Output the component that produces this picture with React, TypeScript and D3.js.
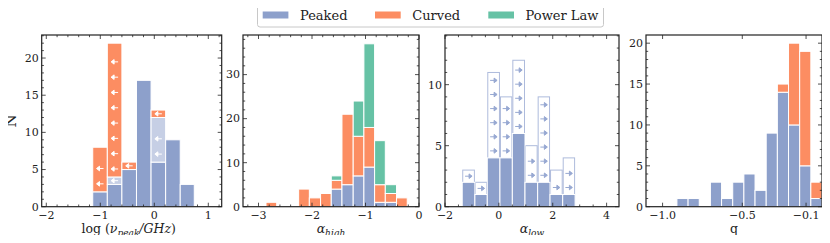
import React, { useRef, useEffect } from 'react';
import * as d3 from 'd3';

const WIDTH = 830;
const HEIGHT = 243;
const FONT = '"DejaVu Serif", serif';

const COLORS = {
  peaked: '#8da0cb',
  peakedLimit: '#c6cfe5',
  curved: '#fc8d62',
  powerLaw: '#66c2a5',
};

// log(nu_peak / GHz)
const nuEdges = [-1.14, -0.87, -0.6, -0.33, -0.06, 0.21, 0.48, 0.74];
const nuPeaked = [2, 3, 5, 17, 6, 9, 3];
const nuPeakedLimit = [0, 1, 0, 0, 6, 0, 0];
const nuCurved = [6, 18, 1, 0, 1, 0, 0];

// alpha_high
const ahEdges = [-2.86, -2.66, -2.45, -2.25, -2.05, -1.84, -1.64, -1.44, -1.23, -1.03, -0.83, -0.63, -0.42, -0.22];
const ahPeaked = [0, 0, 0, 0, 0, 0, 4, 5, 7, 9, 1, 1, 0];
const ahCurved = [1, 0, 0, 4, 2, 3, 2, 16, 9, 9, 4, 2, 2];
const ahPowerLaw = [0, 0, 0, 0, 0, 0, 1, 0, 8, 19, 10, 2, 0];

// alpha_low
const alEdges = [-1.36, -0.89, -0.43, 0.04, 0.5, 0.97, 1.44, 1.9, 2.37, 2.83];
const alPeaked = [2, 1, 4, 4, 6, 2, 2, 1, 1];
const alPeakedLimit = [1, 1, 7, 5, 6, 3, 7, 2, 3];

// q
const qEdges = [-0.91, -0.84, -0.77, -0.7, -0.63, -0.56, -0.49, -0.42, -0.35, -0.28, -0.21, -0.14, -0.07, 0.0];
const qPeaked = [1, 1, 0, 3, 1, 3, 4, 2, 9, 14, 10, 5, 1];
const qCurved = [0, 0, 0, 0, 0, 0, 0, 0, 0, 1, 10, 14, 2];

const legendItems = [
  { label: 'Peaked', color: COLORS.peaked },
  { label: 'Curved', color: COLORS.curved },
  { label: 'Power Law', color: COLORS.powerLaw },
];

const TOP = 35;
const BOTTOM = 206.7;

const panels = [
  {
    left: 41.7, right: 221.7, xDomain: [-2.085, 1.248], yMax: 23.1,
    xTicks: [-2, -1, 0, 1], xMinor: 0.2, yTicks: [0, 5, 10, 15, 20], yMinor: 1,
    xFormat: (d: number) => d3.format('d')(d).replace('-', '\u2212'),
  },
  {
    left: 243, right: 419, xDomain: [-3.29, 0], yMax: 39,
    xTicks: [-3, -2, -1, 0], xMinor: 0.2, yTicks: [0, 10, 20, 30], yMinor: 2,
    xFormat: (d: number) => d3.format('d')(d).replace('-', '\u2212'),
  },
  {
    left: 445, right: 619, xDomain: [-2, 4.46], yMax: 14.07,
    xTicks: [-2, 0, 2, 4], xMinor: 0.5, yTicks: [0, 5, 10], yMinor: 1,
    xFormat: (d: number) => d3.format('d')(d).replace('-', '\u2212'),
  },
  {
    left: 646, right: 822, xDomain: [-1.104, 0], yMax: 21,
    xTicks: [-1.0, -0.5, -0.1], xMinor: 0, yTicks: [0, 5, 10, 15, 20], yMinor: 1,
    xFormat: (d: number) => d3.format('.1f')(d).replace('-', '\u2212'),
  },
];

// stack several count arrays into segments
const stackSegments = (edges: number[], layers: { counts: number[]; color: string; arrows?: boolean }[]) => {
  const segs: any[] = [];
  edges.slice(0, -1).forEach((x0, i) => {
    let base = 0;
    layers.forEach(layer => {
      const c = layer.counts[i];
      if (c > 0) {
        segs.push({ x0, x1: edges[i + 1], y0: base, y1: base + c, color: layer.color, arrows: layer.arrows });
      }
      base += c;
    });
  });
  return segs;
};

// arrow positions (px above segment bottom), spaced like the original
const arrowOffsets = (h: number, start: number, step: number) => {
  const out: number[] = [];
  for (let p = start; p <= h - 7; p += step) out.push(p);
  if (!out.length) out.push(h / 2);
  return out;
};

const arrowPath = (dir: number) => {
  // dir = -1 points left, 1 points right
  const tip = 3.5 * dir;
  return `M${-3.5 * dir},0L${tip - 2.6 * dir},0M${tip},0L${tip - 3 * dir},-2.3L${tip - 3 * dir},2.3Z`;
};

const Histograms = () => {
  const svgRef = useRef<SVGSVGElement>(null);

  useEffect(() => {
    const svg = d3.select(svgRef.current);
    svg.selectAll('*').remove();

    svg.append('rect').attr('width', WIDTH).attr('height', HEIGHT).attr('fill', 'white');

    const h = BOTTOM - TOP;

    const segmentsPerPanel = [
      stackSegments(nuEdges, [
        { counts: nuPeaked, color: COLORS.peaked },
        { counts: nuPeakedLimit, color: COLORS.peakedLimit, arrows: true },
        { counts: nuCurved, color: COLORS.curved, arrows: true },
      ]),
      stackSegments(ahEdges, [
        { counts: ahPeaked, color: COLORS.peaked },
        { counts: ahCurved, color: COLORS.curved },
        { counts: ahPowerLaw, color: COLORS.powerLaw },
      ]),
      stackSegments(alEdges, [{ counts: alPeaked, color: COLORS.peaked }]),
      stackSegments(qEdges, [
        { counts: qPeaked, color: COLORS.peaked },
        { counts: qCurved, color: COLORS.curved },
      ]),
    ];

    panels.forEach((p, pi) => {
      const w = p.right - p.left;
      const g = svg.append('g').attr('transform', `translate(${p.left},${TOP})`);
      const x = d3.scaleLinear().domain(p.xDomain).range([0, w]);
      const y = d3.scaleLinear().domain([0, p.yMax]).range([h, 0]);

      g.append('clipPath').attr('id', `clip${pi}`)
        .append('rect').attr('width', w).attr('height', h);
      const plot = g.append('g').attr('clip-path', `url(#clip${pi})`);

      // alpha_low: outlined limits with right arrows
      if (pi === 2) {
        const outline = alEdges.slice(0, -1).map((x0, i) => ({
          x0, x1: alEdges[i + 1], y0: alPeaked[i], y1: alPeaked[i] + alPeakedLimit[i],
        }));
        plot.selectAll('.outline')
          .data(outline)
          .join('rect')
          .attr('x', d => x(d.x0) + 0.5)
          .attr('width', d => x(d.x1) - x(d.x0) - 1)
          .attr('y', d => y(d.y1))
          .attr('height', d => y(0) - y(d.y1))
          .attr('fill', 'white')
          .attr('stroke', '#aebbdc')
          .attr('stroke-width', 1);
        outline.forEach(d => {
          const segH = y(d.y0) - y(d.y1);
          arrowOffsets(segH, 7, 14.1).forEach(off => {
            plot.append('path')
              .attr('d', arrowPath(1))
              .attr('transform', `translate(${(x(d.x0) + x(d.x1)) / 2},${y(d.y0) - off})`)
              .attr('fill', '#97a8d2')
              .attr('stroke', '#97a8d2')
              .attr('stroke-width', 1);
          });
        });
      }

      const segs = segmentsPerPanel[pi];
      plot.selectAll('.bar')
        .data(segs)
        .join('rect')
        .attr('x', d => x(d.x0))
        .attr('width', d => x(d.x1) - x(d.x0))
        .attr('y', d => y(d.y1))
        .attr('height', d => y(d.y0) - y(d.y1))
        .attr('fill', d => d.color)
        .attr('stroke', 'white')
        .attr('stroke-width', 1);

      // left arrows on upper limits (nu_peak)
      segs.filter(d => d.arrows).forEach(d => {
        const segH = y(d.y0) - y(d.y1);
        arrowOffsets(segH, 8, 15.3).forEach(off => {
          plot.append('path')
            .attr('d', arrowPath(-1))
            .attr('transform', `translate(${(x(d.x0) + x(d.x1)) / 2},${y(d.y0) - off})`)
            .attr('fill', 'white')
            .attr('stroke', 'white')
            .attr('stroke-width', 1);
        });
      });

      // ticks (inward, all four sides)
      const ticks = g.append('g').attr('stroke', '#222').attr('stroke-width', 0.8);
      const majLen = 4;
      const minLen = 2.2;
      const yMinorTicks = d3.range(0, p.yMax, p.yMinor).filter(v => !p.yTicks.includes(v));
      const xMinorTicks = p.xMinor
        ? d3.range(Math.ceil(p.xDomain[0] / p.xMinor) * p.xMinor, p.xDomain[1] + 1e-9, p.xMinor)
            .filter(v => !p.xTicks.some(t => Math.abs(t - v) < 1e-6))
        : [];
      const drawX = (vals: number[], len: number) => vals.forEach(v => {
        ticks.append('line').attr('x1', x(v)).attr('x2', x(v)).attr('y1', h).attr('y2', h - len);
        ticks.append('line').attr('x1', x(v)).attr('x2', x(v)).attr('y1', 0).attr('y2', len);
      });
      const drawY = (vals: number[], len: number) => vals.forEach(v => {
        ticks.append('line').attr('y1', y(v)).attr('y2', y(v)).attr('x1', 0).attr('x2', len);
        ticks.append('line').attr('y1', y(v)).attr('y2', y(v)).attr('x1', w).attr('x2', w - len);
      });
      drawX(p.xTicks, majLen);
      drawX(xMinorTicks, minLen);
      drawY(p.yTicks, majLen);
      drawY(yMinorTicks, minLen);

      g.append('rect')
        .attr('width', w)
        .attr('height', h)
        .attr('fill', 'none')
        .attr('stroke', '#222')
        .attr('stroke-width', 1.2);

      // tick labels
      g.selectAll('.xlabel')
        .data(p.xTicks)
        .join('text')
        .attr('x', d => x(d))
        .attr('y', h + 12)
        .attr('text-anchor', 'middle')
        .attr('font-family', FONT)
        .attr('font-size', 11)
        .attr('fill', '#222')
        .text(d => p.xFormat(d));

      g.selectAll('.ylabel')
        .data(p.yTicks)
        .join('text')
        .attr('x', -3)
        .attr('y', d => y(d))
        .attr('dy', '0.35em')
        .attr('text-anchor', 'end')
        .attr('font-family', FONT)
        .attr('font-size', 11)
        .attr('fill', '#222')
        .text(d => d);
    });

    // axis titles
    const titleY = 233;
    const t1 = svg.append('text')
      .attr('x', (panels[0].left + panels[0].right) / 2 - 3)
      .attr('y', titleY)
      .attr('text-anchor', 'middle')
      .attr('font-family', FONT)
      .attr('font-size', 12.5)
      .attr('fill', '#222');
    t1.append('tspan').text('log (');
    t1.append('tspan').attr('font-style', 'italic').text('\u03bd');
    t1.append('tspan').attr('font-style', 'italic').attr('font-size', 9).attr('dy', 2.5).text('peak');
    t1.append('tspan').attr('font-style', 'italic').attr('dy', -2.5).text('/GHz');
    t1.append('tspan').text(')');

    const t2 = svg.append('text')
      .attr('x', (panels[1].left + panels[1].right) / 2)
      .attr('y', titleY)
      .attr('text-anchor', 'middle')
      .attr('font-family', FONT)
      .attr('font-size', 12.5)
      .attr('fill', '#222');
    t2.append('tspan').attr('font-style', 'italic').text('\u03b1');
    t2.append('tspan').attr('font-style', 'italic').attr('font-size', 9).attr('dy', 2.5).text('high');

    const t3 = svg.append('text')
      .attr('x', (panels[2].left + panels[2].right) / 2)
      .attr('y', titleY)
      .attr('text-anchor', 'middle')
      .attr('font-family', FONT)
      .attr('font-size', 12.5)
      .attr('fill', '#222');
    t3.append('tspan').attr('font-style', 'italic').text('\u03b1');
    t3.append('tspan').attr('font-style', 'italic').attr('font-size', 9).attr('dy', 2.5).text('low');

    svg.append('text')
      .attr('x', (panels[3].left + panels[3].right) / 2)
      .attr('y', titleY)
      .attr('text-anchor', 'middle')
      .attr('font-family', FONT)
      .attr('font-size', 12.5)
      .attr('fill', '#222')
      .text('q');

    svg.append('text')
      .attr('transform', `translate(16,${(TOP + BOTTOM) / 2}) rotate(-90)`)
      .attr('text-anchor', 'middle')
      .attr('font-family', FONT)
      .attr('font-size', 15)
      .attr('fill', '#222')
      .text('N');

    // legend
    const legend = svg.append('g');
    legend.append('rect')
      .attr('x', 257.5)
      .attr('y', 3.5)
      .attr('width', 346)
      .attr('height', 23.5)
      .attr('rx', 2.5)
      .attr('fill', 'white')
      .attr('stroke', '#c8c8c8')
      .attr('stroke-width', 1);
    const legendX = [262.7, 375, 488.3];
    legendItems.forEach((item, i) => {
      legend.append('rect')
        .attr('x', legendX[i])
        .attr('y', 11.5)
        .attr('width', 25.7)
        .attr('height', 7)
        .attr('fill', item.color);
      legend.append('text')
        .attr('x', legendX[i] + 37.3)
        .attr('y', 19.5)
        .attr('font-family', FONT)
        .attr('font-size', 13)
        .attr('fill', '#222')
        .text(item.label);
    });
  }, []);

  return <svg ref={svgRef} width={WIDTH} height={HEIGHT} style={{ display: 'block' }} />;
};

export default function App() {
  return (
    <div style={{ margin: -8 }}>
      <Histograms />
    </div>
  );
}
